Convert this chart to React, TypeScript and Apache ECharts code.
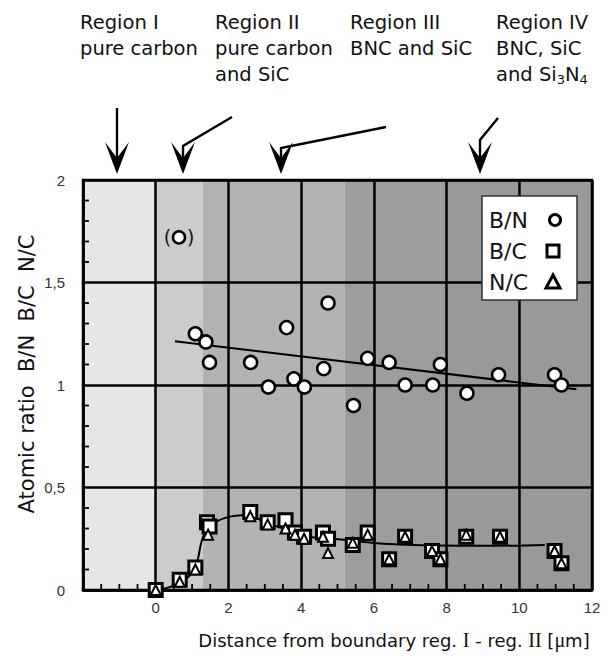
import React, { useEffect, useRef } from "react";
import * as echarts from "echarts";

// ---- data ----
const bnX = [1.09, 1.38, 1.48, 2.61, 3.1, 3.6, 3.8, 4.09, 4.62, 4.74, 5.44, 5.83, 6.42, 6.86, 7.62, 7.83, 8.56, 9.43, 10.97, 11.16];
const bnY = [1.25, 1.21, 1.11, 1.11, 0.99, 1.28, 1.03, 0.99, 1.08, 1.4, 0.9, 1.13, 1.11, 1.0, 1.0, 1.1, 0.96, 1.05, 1.05, 1.0];

const outlierX = [0.64];
const outlierY = [1.72];

const bcX = [0, 0.66, 1.09, 1.41, 1.48, 2.6, 3.08, 3.57, 3.83, 4.08, 4.6, 4.74, 5.42, 5.83, 6.42, 6.86, 7.6, 7.83, 8.54, 9.47, 10.97, 11.16];
const bcY = [0, 0.05, 0.11, 0.33, 0.31, 0.38, 0.33, 0.34, 0.28, 0.26, 0.28, 0.25, 0.22, 0.28, 0.15, 0.26, 0.19, 0.15, 0.26, 0.26, 0.19, 0.13];

const ncX = [0, 0.66, 1.09, 1.44, 2.6, 3.08, 3.57, 3.83, 4.08, 4.6, 4.74, 5.42, 5.83, 6.42, 6.86, 7.6, 7.83, 8.54, 9.47, 10.97, 11.16];
const ncY = [0, 0.04, 0.1, 0.27, 0.36, 0.32, 0.3, 0.27, 0.25, 0.26, 0.18, 0.23, 0.27, 0.15, 0.26, 0.19, 0.15, 0.27, 0.26, 0.19, 0.13];

const bnFitX = [0.53, 11.57];
const bnFitY = [1.213, 0.979];

const bcCurveX = [0, 0.59, 1.05, 1.32, 1.59, 2.05, 2.55, 3.05, 3.51, 4.01, 5.24, 6.42, 8.33, 9.34, 10.7];
const bcCurveY = [0, 0.029, 0.098, 0.268, 0.325, 0.358, 0.366, 0.325, 0.301, 0.265, 0.244, 0.224, 0.216, 0.216, 0.22];

const bandStart = [-2, 0, 1.3, 5.2, 8];
const bandEnd = [0, 1.3, 5.2, 8, 12];
const bandColor = ["#e6e6e6", "#cccccc", "#b3b3b3", "#9d9d9d", "#999999"];

const xTicks = [0, 2, 4, 6, 8, 10, 12];
const yTicks = ["0", "0,5", "1", "1,5", "2"];
const xMinorTicks = [-1.5, -1, -0.5, 0.5, 1, 1.5, 2.5, 3, 3.5, 4.5, 5, 5.5, 6.5, 7, 7.5, 8.5, 9, 9.5, 10.5, 11, 11.5];
const yMinorTicks = [0.1, 0.2, 0.3, 0.4, 0.6, 0.7, 0.8, 0.9, 1.1, 1.2, 1.3, 1.4, 1.6, 1.7, 1.8, 1.9];

const zip = (xs: number[], ys: number[]) => xs.map((x, i) => [x, ys[i]]);

const SANS = "DejaVu Sans";
const TICK_LEN = 6;

function arrow(points: number[][], tipX: number, tipY: number) {
  return [
    {
      type: "polyline",
      z: 30,
      shape: { points },
      style: { stroke: "#000", lineWidth: 2.4, fill: null },
    },
    {
      type: "polygon",
      z: 30,
      shape: {
        points: [
          [tipX, tipY],
          [tipX - 12, tipY - 32],
          [tipX, tipY - 16],
          [tipX + 12, tipY - 32],
        ],
      },
      style: { fill: "#000" },
    },
  ];
}

export default function App() {
  const ref = useRef<HTMLDivElement>(null);
  useEffect(() => {
    if (!ref.current) return;
    const chart = echarts.init(ref.current, null, { renderer: "svg" });

    const annotStyle = {
      fontFamily: SANS,
      fontSize: 19.5,
      fill: "#111",
      lineHeight: 26,
    };
    const legText = (text: string, y: number) => ({
      type: "text",
      z: 31,
      x: 489,
      y,
      style: { text, fontFamily: SANS, fontSize: 22, fill: "#111", verticalAlign: "middle" },
    });

    const option: any = {
      animation: false,
      backgroundColor: "#fff",
      grid: {
        left: 83,
        top: 180,
        right: 18,
        bottom: 67,
        show: true,
        borderColor: "#000",
        borderWidth: 2.5,
        backgroundColor: "transparent",
        z: 3,
      },
      xAxis: {
        type: "value",
        min: -2,
        max: 12,
        interval: 2,
        z: 3,
        axisLine: { show: true, onZero: false, lineStyle: { color: "#000", width: 2.5 } },
        axisTick: { show: false },
        splitLine: { show: true, lineStyle: { color: "#000", width: 2.5 } },
        axisLabel: {
          margin: 10,
          color: "#333",
          fontFamily: "Liberation Sans",
          fontSize: 15,
          formatter: (v: number) => (xTicks.indexOf(v) >= 0 ? String(v) : ""),
        },
      },
      yAxis: {
        type: "value",
        min: 0,
        max: 2,
        interval: 0.5,
        z: 3,
        axisLine: { show: true, onZero: false, lineStyle: { color: "#000", width: 2.5 } },
        axisTick: { show: false },
        splitLine: { show: true, lineStyle: { color: "#000", width: 2.5 } },
        axisLabel: {
          margin: 18,
          color: "#333",
          fontFamily: "Liberation Sans",
          fontSize: 15,
          formatter: (v: number) => yTicks[Math.round(v * 2)] ?? "",
        },
      },
      series: [
        {
          type: "custom",
          name: "bands",
          z: 1,
          silent: true,
          data: bandStart.map((s, i) => [s, bandEnd[i], i]),
          renderItem: (params: any, api: any) => {
            const i = api.value(2);
            const p0 = api.coord([api.value(0), 2]);
            const p1 = api.coord([api.value(1), 0]);
            return {
              type: "rect",
              shape: { x: p0[0], y: p0[1], width: p1[0] - p0[0], height: p1[1] - p0[1] },
              style: { fill: bandColor[i] },
            };
          },
        },
        {
          type: "scatter",
          name: "x minor ticks",
          z: 8,
          silent: true,
          data: xMinorTicks.map((x) => [x, 0]),
          symbol: "rect",
          symbolSize: [1.8, TICK_LEN],
          symbolOffset: [0, -TICK_LEN / 2],
          itemStyle: { color: "#000", opacity: 1 },
        },
        {
          type: "scatter",
          name: "y minor ticks",
          z: 8,
          silent: true,
          data: yMinorTicks.map((y) => [-2, y]),
          symbol: "rect",
          symbolSize: [TICK_LEN, 1.8],
          symbolOffset: [TICK_LEN / 2, 0],
          itemStyle: { color: "#000", opacity: 1 },
        },
        {
          type: "line",
          name: "B/N fit",
          z: 4,
          data: zip(bnFitX, bnFitY),
          symbol: "none",
          lineStyle: { color: "#000", width: 2 },
        },
        {
          type: "line",
          name: "B/C fit",
          z: 4,
          data: zip(bcCurveX, bcCurveY),
          smooth: 0.4,
          symbol: "none",
          lineStyle: { color: "#000", width: 2 },
        },
        {
          type: "scatter",
          name: "B/N",
          z: 5,
          data: zip(bnX, bnY),
          symbol: "circle",
          symbolSize: 13,
          itemStyle: { color: "#fff", borderColor: "#000", borderWidth: 2.5, opacity: 1 },
        },
        {
          type: "scatter",
          name: "B/N (outlier)",
          z: 5,
          data: zip(outlierX, outlierY),
          symbol: "circle",
          symbolSize: 12,
          itemStyle: { color: "#fff", borderColor: "#000", borderWidth: 2.5, opacity: 1 },
          label: {
            show: true,
            position: "inside",
            formatter: "(\u00a0\u00a0\u2009)",
            fontFamily: SANS,
            fontSize: 19,
            color: "#111",
          },
        },
        {
          type: "scatter",
          name: "B/C",
          z: 6,
          data: zip(bcX, bcY),
          symbol: "rect",
          symbolSize: 13,
          itemStyle: { color: "#fff", borderColor: "#000", borderWidth: 3, opacity: 1 },
        },
        {
          type: "scatter",
          name: "N/C",
          z: 7,
          data: zip(ncX, ncY),
          symbol: "triangle",
          symbolSize: 10,
          itemStyle: { color: "#fff", borderColor: "#000", borderWidth: 2, opacity: 1 },
        },
      ],
      graphic: [
        // y axis title
        {
          type: "text",
          x: 27,
          y: 374,
          rotation: Math.PI / 2,
          z: 30,
          style: {
            text: "Atomic ratio  B/N  B/C  N/C",
            fontFamily: SANS,
            fontSize: 21,
            fill: "#111",
            align: "center",
            verticalAlign: "middle",
          },
        },
        // x axis title
        {
          type: "text",
          x: 394,
          y: 640,
          z: 30,
          style: {
            text: "Distance from boundary reg. {s|I} - reg. {s|II} [{s|μ}m]",
            fontFamily: SANS,
            fontSize: 18,
            fill: "#111",
            align: "center",
            verticalAlign: "middle",
            rich: {
              s: { fontFamily: "Liberation Serif", fontSize: 20, fill: "#111" },
            },
          },
        },
        // region annotations
        { type: "text", z: 30, x: 80, y: 9, style: { ...annotStyle, text: "Region I\npure carbon" } },
        { type: "text", z: 30, x: 215, y: 9, style: { ...annotStyle, text: "Region II\npure carbon\nand SiC" } },
        { type: "text", z: 30, x: 350, y: 9, style: { ...annotStyle, text: "Region III\nBNC and SiC" } },
        {
          type: "text",
          z: 30,
          x: 496,
          y: 9,
          style: {
            ...annotStyle,
            text: "Region IV\nBNC, SiC\nand Si{sub|3}N{sub|4}",
            rich: {
              sub: { fontFamily: SANS, fontSize: 13, fill: "#111", padding: [10, 0, 0, 0] },
            },
          },
        },
        ...arrow([[117, 108], [117, 160]], 117, 174),
        ...arrow([[232, 117], [183, 146], [183, 160]], 183, 174),
        ...arrow([[386, 127], [281, 148], [281, 160]], 281, 174),
        ...arrow([[498, 118], [480, 140], [480, 160]], 480, 174),
        // legend box
        {
          type: "rect",
          z: 30,
          shape: { x: 482, y: 196, width: 95, height: 104 },
          style: { fill: "#fff", stroke: "#333", lineWidth: 1.5 },
        },
        legText("B/N", 220),
        legText("B/C", 251),
        legText("N/C", 282),
        {
          type: "circle",
          z: 31,
          shape: { cx: 555, cy: 220, r: 5.5 },
          style: { fill: "#fff", stroke: "#000", lineWidth: 3 },
        },
        {
          type: "rect",
          z: 31,
          shape: { x: 547, y: 245, width: 12, height: 12 },
          style: { fill: "#fff", stroke: "#000", lineWidth: 3 },
        },
        {
          type: "polygon",
          z: 31,
          shape: { points: [[553, 275], [546, 288], [560, 288]] },
          style: { fill: "#fff", stroke: "#000", lineWidth: 3, lineJoin: "miter" },
        },
      ],
    };

    chart.setOption(option);
    return () => chart.dispose();
  }, []);

  return (
    <div
      ref={ref}
      style={{ position: "fixed", left: 0, top: 0, width: 610, height: 657 }}
    />
  );
}
